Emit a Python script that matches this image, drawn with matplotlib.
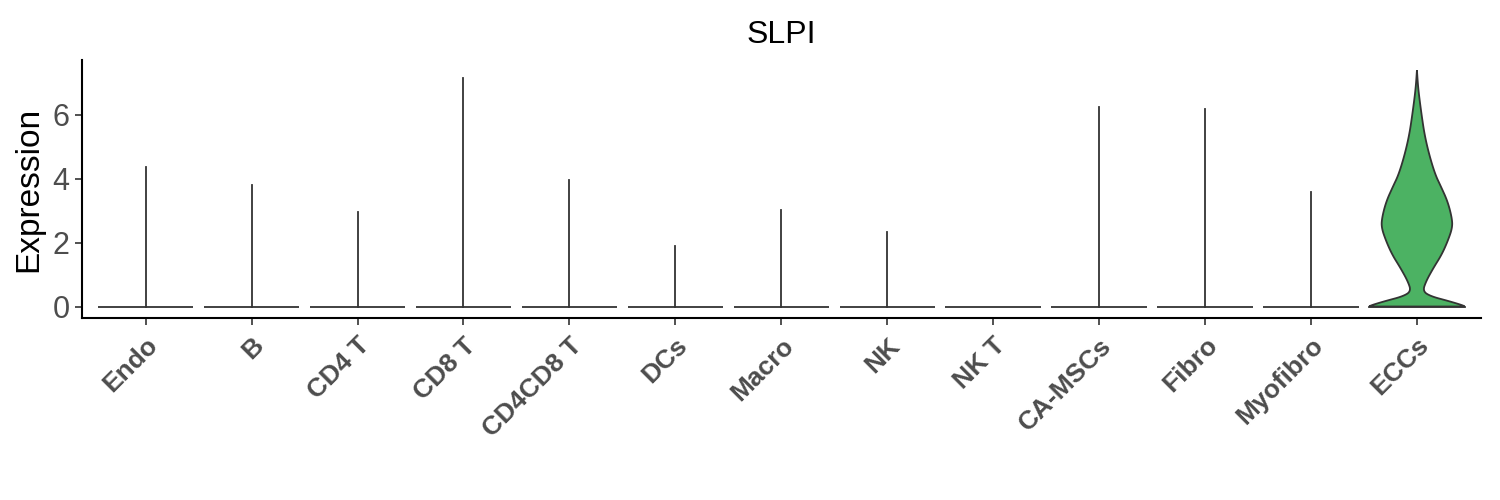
import numpy as np
import matplotlib
matplotlib.use("Agg")
import matplotlib.pyplot as plt

plt.rcParams["font.family"] = ["Liberation Sans", "DejaVu Sans"]

# cell types in plot order
cell_types = ["Endo", "B", "CD4 T", "CD8 T", "CD4CD8 T", "DCs", "Macro", "NK",
              "NK T", "CA-MSCs", "Fibro", "Myofibro", "ECCs"]
# max SLPI expression per cell type (tail of each violin)
max_expr = [4.37, 3.82, 2.96, 7.16, 3.97, 1.90, 3.03, 2.34,
            0.0, 6.25, 6.19, 3.60, 7.40]

# ECCs violin outline: expression level vs half-width
ecc_y = [0.0, 0.04, 0.17, 0.32, 0.48, 0.79, 1.21, 1.62, 2.04, 2.47, 2.78,
         3.29, 3.76, 4.13, 4.75, 5.38, 6.0, 6.63, 7.0, 7.40]
ecc_hw = [0.45, 0.43, 0.30, 0.13, 0.055, 0.086, 0.156, 0.233, 0.29, 0.335,
          0.33, 0.29, 0.226, 0.173, 0.116, 0.072, 0.044, 0.019, 0.008, 0.0]

edge = "#333333"
green = "#4CB263"


def chaikin(px, py, n=3):
    # round off the corners of the outline a bit (keeps end points)
    for _ in range(n):
        qx, qy = [px[0]], [py[0]]
        for i in range(len(px) - 1):
            qx += [0.75 * px[i] + 0.25 * px[i + 1], 0.25 * px[i] + 0.75 * px[i + 1]]
            qy += [0.75 * py[i] + 0.25 * py[i + 1], 0.25 * py[i] + 0.75 * py[i + 1]]
        qx.append(px[-1])
        qy.append(py[-1])
        px, py = np.array(qx), np.array(qy)
    return px, py


fig = plt.figure(figsize=(15, 5), dpi=100)
ax = fig.add_axes([0.0547, 0.364, 0.9323, 0.516])

xs = np.arange(1, len(cell_types) + 1)
for x, name, top in zip(xs, cell_types, max_expr):
    if name == "ECCs":
        y = np.array(ecc_y)
        hw = np.array(ecc_hw)
        px = np.concatenate([x - hw, (x + hw)[::-1]])
        py = np.concatenate([y, y[::-1]])
        px, py = chaikin(px, py)
        ax.fill(px, py, facecolor=green, edgecolor=edge, lw=1.3, zorder=3)
        ax.plot([x - 0.45, x + 0.45], [0, 0], color=edge, lw=1.3, zorder=4)
    else:
        # almost all cells are 0, so the violin collapses to a flat line plus a thin tail
        ax.plot([x - 0.45, x + 0.45], [0, 0], color=edge, lw=1.3,
                solid_capstyle="butt", zorder=3)
        if top > 0:
            ax.plot([x, x], [0, top], color=edge, lw=1.3, zorder=3)

ax.set_xlim(0.4, 13.6)
ax.set_ylim(-0.36, 7.72)
ax.set_yticks([0, 2, 4, 6])
ax.set_yticklabels(["0", "2", "4", "6"], fontsize=22, color="#4D4D4D")
ax.set_xticks(xs)
ax.set_xticklabels(cell_types, rotation=45, ha="right", va="top",
                   rotation_mode="anchor", fontsize=19, fontweight="bold",
                   color="#4D4D4D")
ax.tick_params(axis="both", length=5, width=1.2, color="#333333")
ax.tick_params(axis="x", pad=6)
ax.tick_params(axis="y", pad=4)

for s in ["top", "right"]:
    ax.spines[s].set_visible(False)
for s in ["left", "bottom"]:
    ax.spines[s].set_linewidth(1.5)
    ax.spines[s].set_color("black")

ax.set_ylabel("Expression", fontsize=24, labelpad=6)
ax.set_title("SLPI", fontsize=23, pad=12)

fig.savefig("out.png", dpi=100)
